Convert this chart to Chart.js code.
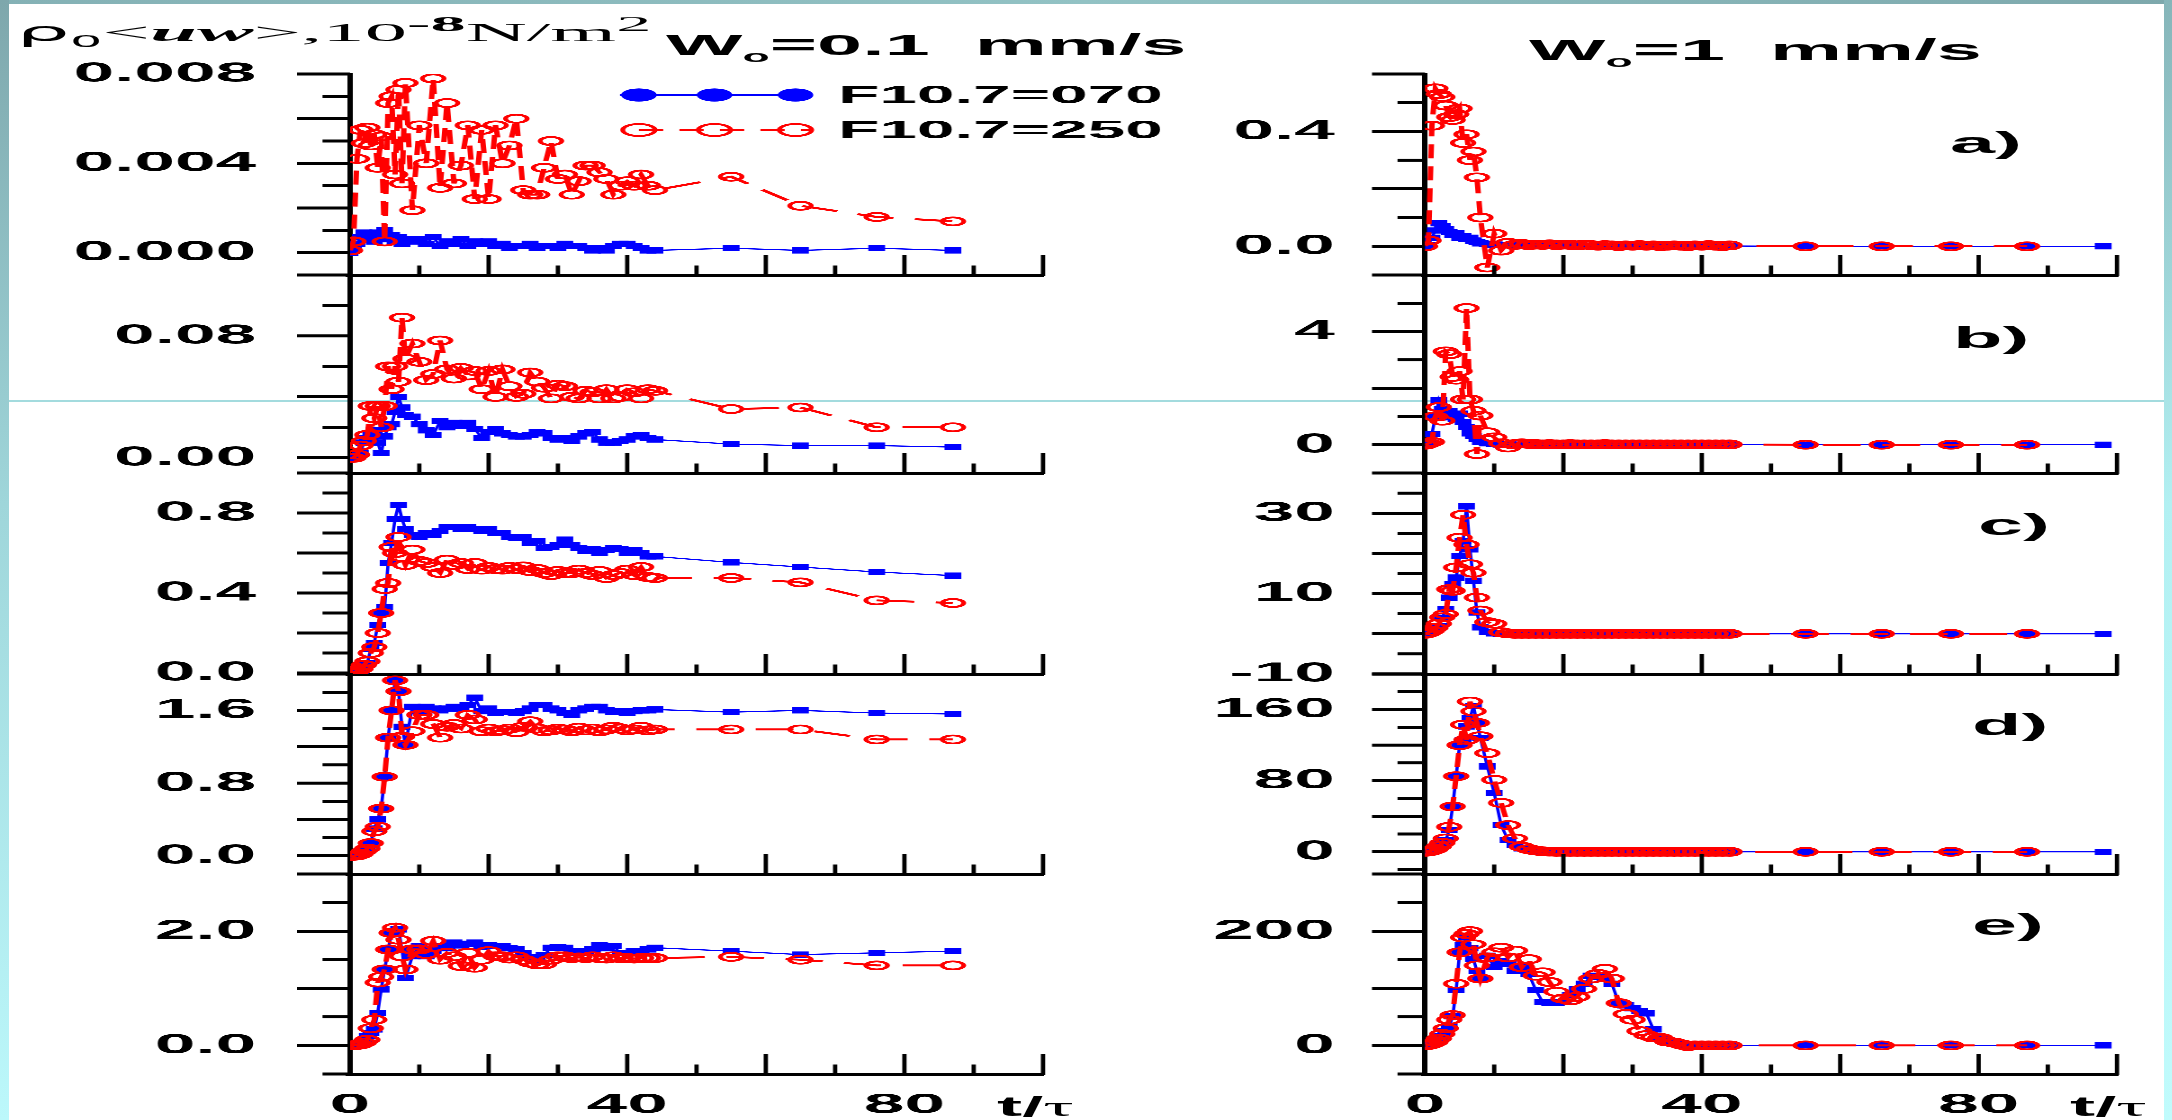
<!DOCTYPE html>
<html>
<head>
<meta charset="utf-8">
<title>rho0 uw vs t/tau</title>
<script src="https://cdn.jsdelivr.net/npm/chart.js@4.4.1/dist/chart.umd.min.js"></script>
<style>
html,body{margin:0;padding:0;}
body{width:2172px;height:1120px;overflow:hidden;background:#ffffff;position:relative;}
.deco{position:absolute;}
#stage{position:absolute;left:0;top:0;width:804.444px;height:1120px;transform:scaleX(2.7);transform-origin:0 0;}
.box{position:absolute;}
.txt{position:absolute;white-space:pre;line-height:1;color:#000;}
.txt sup,.txt sub{line-height:0;}
</style>
</head>
<body>
<div class="deco" style="left:0;top:400px;width:2172px;height:2px;background:#a3dbde;"></div>
<div class="deco" style="left:0;top:0;width:2172px;height:4px;background:linear-gradient(90deg,#84b1b5,#92c2c4 50%,#7da8ac);"></div>
<div class="deco" style="left:0;top:0;width:9px;height:1120px;background:linear-gradient(180deg,#7ea7ac,#9fd6da 45%,#bcf8fb);"></div>
<div class="deco" style="right:0;top:0;width:8px;height:1120px;background:linear-gradient(180deg,#86b5b9,#b2f0f2 45%,#c0fbfc);"></div>
<div id="stage"></div>
<script>
// ---------------- data ----------------
const seriesNames = ['F10.7=070', 'F10.7=250'];
const tLeft = [0,0.5,1,1.5,2,2.5,3,3.5,4,4.5,5,5.5,6,6.5,7,7.5,8,9,10,11,12,13,14,15,16,17,18,19,20,21,22,23,24,25,26,27,28,29,30,31,32,33,34,35,36,37,38,39,40,41,42,43,44,55,65,76,87];
const tRight = [0,0.5,1,1.5,2,2.5,3,3.5,4,4.5,5,5.5,6,6.5,7,7.5,8,9,10,11,12,13,14,15,16,17,18,19,20,21,22,23,24,25,26,27,28,29,30,31,32,33,34,35,36,37,38,39,40,41,42,43,44,55,66,76,87,98];

// left column, W0 = 0.1 mm/s
const la070 = [0,0.0002,0.0004,0.0007,0.0009,0.0006,0.0008,0.0005,0.0009,0.0007,0.0010,0.0006,0.0008,0.0005,0.0007,0.0004,0.0006,
  0.0005,0.0006,0.0004,0.0007,0.0003,0.0005,0.0004,0.0006,0.0003,0.0005,0.0004,0.0005,0.0003,0.0004,0.0002,0.0003,0.0003,0.0004,0.0002,0.0003,0.0003,0.0002,0.0004,0.0003,0.0003,0.0002,0.0001,0.0002,0.0001,0.0003,0.0004,0.0004,0.0003,0.0002,0.0001,0.0001,
  0.0002,0.0001,0.0002,0.0001];
const la250 = [0.0001,0.0005,0.0042,0.0055,0.0049,0.0056,0.0048,0.0053,0.0038,0.0052,0.0005,0.0067,0.0070,0.0035,0.0073,0.0031,0.0076,
  0.0019,0.0057,0.0040,0.0078,0.0029,0.0067,0.0031,0.0039,0.0057,0.0024,0.0055,0.0024,0.0057,0.0040,0.0048,0.0060,0.0028,0.0026,0.0026,0.0038,0.0050,0.0033,0.0035,0.0026,0.0032,0.0039,0.0039,0.0036,0.0033,0.0026,0.0030,0.0032,0.0030,0.0035,0.0030,0.0028,
  0.0034,0.0021,0.0016,0.0014];
const lb070 = [0,0,0.001,0.003,0.010,0.013,0.016,0.018,0.010,0.003,0.014,0.020,0.022,0.030,0.040,0.033,0.028,
  0.027,0.022,0.018,0.015,0.024,0.020,0.023,0.021,0.023,0.019,0.013,0.017,0.019,0.016,0.015,0.014,0.014,0.015,0.017,0.016,0.013,0.012,0.013,0.011,0.014,0.016,0.017,0.012,0.010,0.010,0.011,0.012,0.014,0.015,0.013,0.012,
  0.009,0.008,0.008,0.007];
const lb250 = [0,0,0.002,0.008,0.011,0.015,0.034,0.026,0.034,0.020,0.034,0.060,0.045,0.060,0.050,0.092,0.065,
  0.075,0.063,0.051,0.055,0.077,0.058,0.052,0.059,0.054,0.057,0.045,0.057,0.040,0.058,0.047,0.040,0.042,0.056,0.050,0.046,0.039,0.048,0.047,0.040,0.039,0.044,0.043,0.039,0.045,0.039,0.040,0.045,0.043,0.039,0.045,0.044,
  0.032,0.033,0.020,0.020];
const lc070 = [0,0,0.005,0.01,0.03,0.05,0.12,0.15,0.24,0.30,0.33,0.55,0.65,0.77,0.84,0.77,0.72,
  0.69,0.68,0.70,0.69,0.71,0.73,0.73,0.72,0.73,0.72,0.71,0.72,0.70,0.70,0.68,0.675,0.68,0.65,0.66,0.625,0.63,0.64,0.667,0.64,0.625,0.61,0.62,0.60,0.615,0.625,0.62,0.60,0.615,0.60,0.583,0.583,
  0.553,0.53,0.505,0.487];
const lc250 = [0,0,0.01,0.02,0.04,0.058,0.10,0.13,0.20,0.30,0.42,0.45,0.63,0.60,0.68,0.58,0.54,
  0.617,0.56,0.55,0.53,0.50,0.567,0.54,0.55,0.52,0.55,0.517,0.53,0.52,0.517,0.53,0.52,0.533,0.51,0.52,0.50,0.49,0.51,0.50,0.50,0.517,0.50,0.49,0.51,0.475,0.49,0.50,0.517,0.49,0.53,0.48,0.475,
  0.475,0.453,0.363,0.35];
const ld070 = [0,0,0.005,0.02,0.05,0.08,0.14,0.30,0.40,0.52,0.87,1.30,1.60,1.93,1.81,1.42,1.22,
  1.64,1.59,1.64,1.62,1.60,1.62,1.64,1.62,1.66,1.74,1.59,1.62,1.57,1.58,1.58,1.57,1.59,1.62,1.66,1.66,1.62,1.60,1.57,1.55,1.60,1.62,1.64,1.64,1.60,1.58,1.59,1.57,1.59,1.60,1.60,1.61,
  1.58,1.60,1.57,1.56];
const ld250 = [0,0,0.005,0.02,0.05,0.08,0.14,0.27,0.32,0.52,0.87,1.30,1.60,1.93,1.81,1.31,1.22,
  1.37,1.55,1.55,1.45,1.30,1.42,1.45,1.40,1.55,1.50,1.37,1.40,1.37,1.38,1.40,1.36,1.42,1.48,1.40,1.37,1.38,1.40,1.39,1.37,1.41,1.38,1.40,1.37,1.39,1.42,1.40,1.38,1.39,1.42,1.38,1.39,
  1.39,1.39,1.28,1.28];
const le070 = [0,0,0.01,0.03,0.08,0.16,0.22,0.28,0.57,0.98,1.33,1.68,1.97,2.00,2.03,1.68,1.18,
  1.56,1.74,1.56,1.65,1.74,1.70,1.80,1.75,1.78,1.80,1.72,1.76,1.74,1.74,1.70,1.68,1.62,1.55,1.50,1.58,1.71,1.72,1.71,1.65,1.62,1.65,1.68,1.75,1.70,1.74,1.62,1.62,1.65,1.62,1.68,1.71,
  1.65,1.59,1.62,1.65];
const le250 = [0,0,0.01,0.02,0.05,0.10,0.30,0.45,1.10,1.20,1.33,1.68,1.97,2.06,1.85,1.56,1.33,
  1.68,1.68,1.60,1.83,1.50,1.62,1.56,1.39,1.62,1.36,1.50,1.65,1.56,1.56,1.52,1.56,1.50,1.45,1.42,1.42,1.50,1.56,1.56,1.53,1.54,1.53,1.56,1.53,1.52,1.56,1.53,1.53,1.52,1.53,1.53,1.53,
  1.55,1.50,1.40,1.40];

// right column, W0 = 1 mm/s
const ra070 = [0,0.005,0.03,0.055,0.08,0.07,0.06,0.05,0.04,0.045,0.03,0.035,0.025,0.03,0.02,0.015,0.01,
  0.008,0.006,0.005,0.004,0.004,0.003,0.003,0.003,0.002,0.003,0.002,0.002,0.003,0.002,0.002,0.001,0.002,0.001,0.002,0.001,0.001,0.002,0.001,0.001,0.001,0.001,0.002,0.001,0.001,0.001,0.001,0.001,0.001,0.001,0.001,0.001,
  0,0,0,0,0];
const ra250 = [0,0.02,0.42,0.55,0.53,0.52,0.49,0.45,0.44,0.46,0.48,0.36,0.39,0.30,0.33,0.24,0.10,
  -0.074,0.044,-0.015,0.012,0.005,0.008,0.004,0.006,0.005,0.007,0.004,0.006,0.005,0.003,0.006,0.004,0.002,0.004,0.003,0.001,0.003,0.002,0.004,0.002,0.003,0.001,0.002,0.003,0.002,0.001,0.003,0.002,0.004,0.002,0.001,0.003,
  0,0,0,0,null];
const rb070 = [0,0.1,0.38,1.0,1.57,1.27,0.97,1.2,1.09,0.9,1.1,0.8,0.62,0.4,0.3,0.2,0.1,
  0.05,0.02,0.01,0.01,0,0,0,0,0,0,0,0,0,0,0,0,0,0,0,0,0,0,0,0,0,0,0,0,0,0,0,0,0,0,0,0,
  0,0,0,0,0];
const rb250 = [0,0.05,0.1,1.0,1.33,0.85,3.3,3.2,2.4,2.3,2.6,1.6,4.83,1.6,1.2,-0.33,1.03,
  0.44,0.26,0.05,-0.1,0.02,0.05,0.03,0.02,0.01,0.02,0.01,0.01,0.02,0.01,0.01,0.01,0.01,0.02,0.01,0.01,0.01,0.01,0.01,0.01,0.01,0.01,0.01,0.01,0.01,0.01,0.01,0.01,0.01,0.01,0.01,0.01,
  0,0,0,0,null];
const rc070 = [0,0.2,0.8,1.5,2,4,6.2,9,12.3,14,19.3,23,31.7,21,13.2,5.3,1.6,
  0.4,0.1,0,0,0,0,0,0,0,0,0,0,0,0,0,0,0,0,0,0,0,0,0,0,0,0,0,0,0,0,0,0,0,0,0,0,
  0,0,0,0,0];
const rc250 = [0,0.3,0.8,1.5,2.5,4.1,4.9,11.1,10.7,16.5,23.9,29.6,22.2,17.3,15.2,9,5.8,
  2.9,2.5,0.4,0.1,0,0,0,0,0,0,0,0,0,0,0,0,0,0,0,0,0,0,0,0,0,0,0,0,0,0,0,0,0,0,0,0,
  0,0,0,0,null];
const rd070 = [0,0.5,1.5,3,5.6,9,13,24.5,51,85,120,126,141,150,164,145,128,
  96,66,30,13,7.5,3.8,2,1,0.5,0,0,0,0,0,0,0,0,0,0,0,0,0,0,0,0,0,0,0,0,0,0,0,0,0,0,0,
  0,0,0,0,0];
const rd250 = [0,0.5,1.5,3,6,10,15,28,51,85,120,143,126,169,158,145,130,
  111,81,55,30,15,5.6,3,1.5,0.5,0.2,0,0,0,0,0,0,0,0,0,0,0,0,0,0,0,0,0,0,0,0,0,0,0,0,0,0,
  0,0,0,0,null];
const re070 = [0,1,3,6,10,16,25,33,51,97,163,175,189,170,151,130,117,
  157,137,148,143,131,137,125,97,76,74,74,76,88,98,108,122,120,117,108,74,70,65,60,56,28,13,7,5,2,0,0,0,0,0,0,0,
  0,0,0,0,0];
const re250 = [0,1,3,6,12,20,30,45,53,108,163,189,195,200,177,140,117,
  154,163,171,154,166,137,151,122,128,111,94,82,79,85,99,117,125,134,117,74,55,45,25,18,14,13,7,5,2,-1,0,0,0,0,0,0,
  0,0,0,0,null];

// axes
const xTickLabels = ['0', '40', '80'];
const xMajor = [20, 40, 60, 80, 100];
const xMinor = [10, 30, 50, 70, 90];
const yMinLeft = [-0.001, -0.01, -0.005, -0.2, -0.5];
const yMaxLeft = [0.008, 0.12, 1.0, 2.0, 3.0];
const yLabelsLeft = [['0.000','0.004','0.008'], ['0.00','0.08'], ['0.0','0.4','0.8'], ['0.0','0.8','1.6'], ['0.0','2.0']];
const yMajorLeft = [[0,0.002,0.004,0.006,0.008], [0,0.04,0.08], [0,0.2,0.4,0.6,0.8], [0,0.4,0.8,1.2,1.6], [0,1,2]];
const yMinorLeft = [[0.001,0.003,0.005,0.007], [0.02,0.06,0.10], [0.1,0.3,0.5,0.7,0.9], [0.2,0.6,1.0,1.4,1.8], [0.5,1.5,2.5]];
const yMinRight = [-0.1, -1, -10, -25, -50];
const yMaxRight = [0.6, 6, 40, 200, 300];
const yLabelsRight = [['0.0','0.4'], ['0','4'], ['-10','10','30'], ['0','80','160'], ['0','200']];
const yMajorRight = [[0,0.2,0.4,0.6], [0,2,4], [-10,0,10,20,30], [0,40,80,120,160], [0,100,200]];
const yMinorRight = [[0.1,0.3,0.5], [1,3,5], [-5,5,15,25,35], [-20,20,60,100,140,180], [50,150,250]];
const panelTags = ['a)', 'b)', 'c)', 'd)', 'e)'];

// ---------------- layout ----------------
const S = 2.7; // horizontal stretch of the whole figure
const stage = document.getElementById('stage');
const FONT = "'Liberation Sans', Arial, sans-serif";
const BLUE = '#0000ff', RED = '#ff0000';
const ROW_TOP = [74, 275, 473, 674, 874];
const ROW_BOT = [275, 473, 674, 874, 1074];
const LONG_Y = 53 / S, SHORT_Y = 27.5 / S, LONG_X = 20, SHORT_X = 9.5;

const left070 = [la070, lb070, lc070, ld070, le070];
const left250 = [la250, lb250, lc250, ld250, le250];
const right070 = [ra070, rb070, rc070, rd070, re070];
const right250 = [ra250, rb250, rc250, rd250, re250];

const COLS = [
  {axis: 350 / S, end: 1043 / S, cLeft: 0, cW: 437, t: tLeft, s070: left070, s250: left250,
   min: yMinLeft, max: yMaxLeft, labels: yLabelsLeft, major: yMajorLeft, minor: yMinorLeft, gap: 34.8},
  {axis: 1425 / S, end: 2117 / S, cLeft: 440, cW: 364, t: tRight, s070: right070, s250: right250,
   min: yMinRight, max: yMaxRight, labels: yLabelsRight, major: yMajorRight, minor: yMinorRight, gap: 33.4}
];

function marksPlugin(major, minor, ext) {
  return {
    id: 'marks',
    afterDraw(chart) {
      const ctx = chart.ctx, xs = chart.scales.x, ys = chart.scales.y;
      const ax = chart.chartArea.left, by = chart.chartArea.bottom;
      const seg = (x1, y1, x2, y2) => { ctx.beginPath(); ctx.moveTo(x1, y1); ctx.lineTo(x2, y2); ctx.stroke(); };
      ctx.save();
      ctx.strokeStyle = '#000';
      ctx.lineCap = 'butt';
      ctx.lineWidth = 3;
      major.forEach(v => { const y = ys.getPixelForValue(v); seg(ax - LONG_Y, y, ax, y); });
      minor.forEach(v => { const y = ys.getPixelForValue(v); seg(ax - SHORT_Y, y, ax, y); });
      seg(ax - ext, by, ax, by);
      ctx.lineWidth = 1.6;
      xMajor.forEach(v => { const x = xs.getPixelForValue(v); seg(x, by + 1, x, by - LONG_X); });
      xMinor.forEach(v => { const x = xs.getPixelForValue(v); seg(x, by + 1, x, by - SHORT_X); });
      ctx.restore();
    }
  };
}

const legendPlugin = {
  id: 'legendMarks',
  afterDraw(chart) {
    const ctx = chart.ctx, a = chart.chartArea;
    const mx = [107, 135, 165].map(v => a.left + v);
    const x0 = a.left + 100, x1 = a.left + 171;
    ctx.save();
    let y = a.top + 21;
    ctx.strokeStyle = BLUE; ctx.lineWidth = 1.4;
    ctx.beginPath(); ctx.moveTo(x0, y); ctx.lineTo(x1, y); ctx.stroke();
    ctx.fillStyle = BLUE;
    mx.forEach(x => { ctx.beginPath(); ctx.arc(x, y, 6.6, 0, Math.PI * 2); ctx.fill(); });
    y = a.top + 56;
    ctx.strokeStyle = RED; ctx.lineWidth = 2;
    ctx.setLineDash([9, 6]);
    ctx.beginPath(); ctx.moveTo(x0 + 7, y); ctx.lineTo(x1, y); ctx.stroke();
    ctx.setLineDash([]);
    ctx.lineWidth = 1.8;
    mx.forEach(x => { ctx.beginPath(); ctx.arc(x, y, 6, 0, Math.PI * 2); ctx.stroke(); });
    ctx.fillStyle = '#000';
    ctx.font = "bold 25px " + FONT;
    ctx.textBaseline = 'middle';
    ctx.textAlign = 'left';
    ctx.fillText(seriesNames[0], a.left + 180.8, a.top + 22);
    ctx.fillText(seriesNames[1], a.left + 180.8, a.top + 57);
    ctx.restore();
  }
};

function panel(c, r) {
  const C = COLS[c];
  const padTop = 20, padBot = (r === 4) ? 46 : 20;
  const top = ROW_TOP[r], bot = ROW_BOT[r];
  const cTop = top - padTop, cH = padTop + (bot - top) + padBot;
  const box = document.createElement('div');
  box.className = 'box';
  box.style.left = C.cLeft + 'px';
  box.style.top = cTop + 'px';
  box.style.width = C.cW + 'px';
  box.style.height = cH + 'px';
  const cv = document.createElement('canvas');
  cv.width = C.cW; cv.height = cH;
  box.appendChild(cv);
  stage.appendChild(box);
  const labelSpace = C.axis - C.cLeft;
  const padRight = C.cW - (C.end - C.cLeft);
  const labels = C.labels[r];
  const pts = arr => C.t.map((x, i) => ({x: x, y: arr[i]}));
  const plugins = [marksPlugin(C.major[r], C.minor[r], r === 4 ? SHORT_Y : LONG_Y)];
  if (c === 0 && r === 0) plugins.push(legendPlugin);
  const tickFont = {family: FONT, size: 27, weight: 'bold'};
  new Chart(cv, {
    type: 'line',
    data: {
      datasets: [
        {label: seriesNames[1], data: pts(C.s250[r]), borderColor: RED, borderWidth: 2, borderDash: [14, 8],
         pointStyle: 'circle', pointRadius: 4, pointBorderWidth: 1.8, pointBorderColor: RED,
         pointBackgroundColor: 'rgba(255,255,255,0)', fill: false, tension: 0, spanGaps: false},
        {label: seriesNames[0], data: pts(C.s070[r]), borderColor: BLUE, borderWidth: 1.2,
         pointStyle: 'rect', pointRadius: 4.4, pointBorderWidth: 0, pointBorderColor: BLUE,
         pointBackgroundColor: BLUE, fill: false, tension: 0}
      ]
    },
    options: {
      responsive: false,
      animation: false,
      events: [],
      devicePixelRatio: 3,
      layout: {padding: {top: padTop, right: padRight, left: 0, bottom: 0}},
      plugins: {legend: {display: false}, tooltip: {enabled: false}, title: {display: false}},
      scales: {
        x: {
          type: 'linear', position: 'bottom', min: 0, max: 100,
          grid: {display: true, drawOnChartArea: false, drawTicks: false},
          border: {display: true, width: 3, color: '#000'},
          ticks: {display: r === 4, autoSkip: false, padding: 15, color: '#000', font: tickFont,
                  callback: (v, i) => xTickLabels[i]},
          afterBuildTicks: s => { s.ticks = xTickLabels.map(v => ({value: parseFloat(v)})); },
          afterFit: s => { s.height = padBot; s.paddingLeft = 0; s.paddingRight = 0; }
        },
        y: {
          type: 'linear', position: 'left', min: C.min[r], max: C.max[r],
          grid: {display: true, drawOnChartArea: false, drawTicks: false},
          border: {display: true, width: 2, color: '#000'},
          ticks: {autoSkip: false, padding: C.gap, color: '#000', font: tickFont,
                  callback: (v, i) => labels[i]},
          afterBuildTicks: s => { s.ticks = labels.map(v => ({value: parseFloat(v)})); },
          afterFit: s => { s.width = labelSpace; s.paddingTop = 0; s.paddingBottom = 0; }
        }
      }
    },
    plugins: plugins
  });
}

for (let r = 0; r < 5; r++) { panel(0, r); panel(1, r); }

// ---------------- texts ----------------
function addText(html, left, top, style) {
  const d = document.createElement('div');
  d.className = 'txt';
  d.innerHTML = html;
  d.style.left = left + 'px';
  d.style.top = top + 'px';
  d.style.cssText += style;
  stage.appendChild(d);
  return d;
}
const yTitle = addText("<span style=\"font-family:'DejaVu Sans'\">\u03c1<sub style='font-size:60%'>0</sub></span>&lt;<b><i>uw</i></b>&gt;,10<sup><b>-8</b></sup>N/m<sup>2</sup>",
  5.6, 18.5, "font-family:'Liberation Serif','Times New Roman',serif;font-size:26px;transform-origin:0 0;");
yTitle.style.transform = 'scaleX(' + (235 / yTitle.offsetWidth) + ')';
addText("W<sub style='font-size:55%'>o</sub>=0.1  mm/s", 246.7, 29.6, "font-family:" + FONT + ";font-weight:bold;font-size:30px;");
addText("W<sub style='font-size:55%'>o</sub>=1  mm/s", 566.3, 34.6, "font-family:" + FONT + ";font-weight:bold;font-size:30px;");
const tagLeft = [722.2, 723.3, 732.6, 730.4, 730.4];
const tagTop = [128, 323, 510, 709.6, 910];
panelTags.forEach((t, i) => addText(t, tagLeft[i], tagTop[i], "font-family:" + FONT + ";font-weight:bold;font-size:30px;"));
const tauHtml = "t/<span style=\"font-family:'Liberation Serif',serif;font-weight:normal\">\u03c4</span>";
addText(tauHtml, 369.3, 1093, "font-family:" + FONT + ";font-weight:bold;font-size:28px;");
addText(tauHtml, 766.7, 1093, "font-family:" + FONT + ";font-weight:bold;font-size:28px;");
</script>
</body>
</html>
